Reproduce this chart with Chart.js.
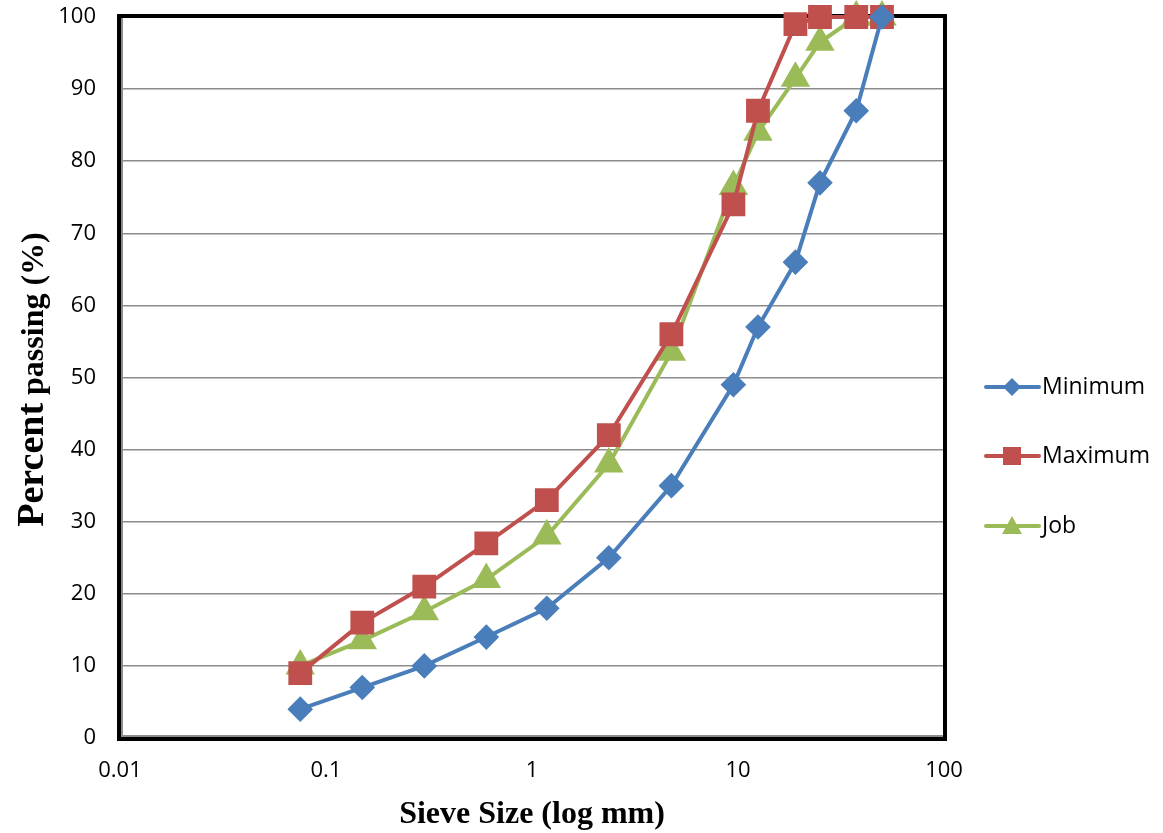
<!DOCTYPE html>
<html lang="en">
<head>
    <meta charset="UTF-8">
    <title>Sieve Gradation Chart</title>
    <script src="https://cdn.jsdelivr.net/npm/chart.js"></script>
    <style>
        html, body { margin: 0; padding: 0; background: #fff; }
        .chart-container { width: 1163px; height: 833px; position: relative; }
    </style>
</head>
<body>
    <div class="chart-container">
        <canvas id="gradChart"></canvas>
    </div>

    <script>
        // Sieve sizes (mm) and percent passing
        const sieveSizes = [0.075, 0.15, 0.3, 0.6, 1.18, 2.36, 4.75, 9.5, 12.5, 19, 25, 37.5, 50];
        const minimum = [4, 7, 10, 14, 18, 25, 35, 49, 57, 66, 77, 87, 100];
        const maximum = [9, 16, 21, 27, 33, 42, 56, 74, 87, 99, 100, 100, 100];
        const job = [10, 13.5, 17.5, 22, 28, 38, 53.5, 76.5, 84, 91.5, 96.5, 100, 100];
        const xTicks = [0.01, 0.1, 1, 10, 100];
        const xTickLabels = ['0.01', '0.1', '1', '10', '100'];

        const toPoints = arr => arr.map((v, i) => ({ x: sieveSizes[i], y: v }));
        const tickFont = { family: 'Open Sans', size: 22 };

        // Frame around plot area: black box with grey axis lines inside
        const framePlugin = {
            id: 'frame',
            beforeDatasetsDraw(chart) {
                const { ctx, chartArea: a } = chart;
                ctx.save();
                ctx.strokeStyle = '#000';
                ctx.lineWidth = 4;
                ctx.strokeRect(a.left - 1, a.top - 1, a.right - a.left + 2, a.bottom - a.top + 2);
                ctx.strokeStyle = '#8c8c8c';
                ctx.lineWidth = 2;
                ctx.beginPath();
                ctx.moveTo(a.left + 2, a.top + 1);
                ctx.lineTo(a.left + 2, a.bottom - 2);
                ctx.lineTo(a.right - 1, a.bottom - 2);
                ctx.stroke();
                ctx.restore();
            }
        };

        // Axis titles and legend drawn by hand
        const labelPlugin = {
            id: 'labels',
            afterDraw(chart) {
                const { ctx, chartArea: a } = chart;
                ctx.save();
                ctx.fillStyle = '#000';
                // x title
                ctx.font = 'bold 32px "Liberation Serif"';
                ctx.textAlign = 'center';
                ctx.textBaseline = 'middle';
                ctx.fillText('Sieve Size (log mm)', (a.left + a.right) / 2, 815);
                // y title, mixed sizes
                ctx.translate(30, (a.top + a.bottom) / 2 + 2);
                ctx.rotate(-Math.PI / 2);
                const p1 = 'Percent', p2 = ' passing (%)';
                ctx.font = 'bold 38px "Liberation Serif"';
                const w1 = ctx.measureText(p1).width;
                ctx.font = 'bold 32px "Liberation Serif"';
                const w2 = ctx.measureText(p2).width;
                let x0 = -(w1 + w2) / 2;
                ctx.textAlign = 'left';
                ctx.textBaseline = 'alphabetic';
                ctx.font = 'bold 38px "Liberation Serif"';
                ctx.fillText(p1, x0, 13);
                ctx.font = 'bold 32px "Liberation Serif"';
                ctx.fillText(p2, x0 + w1, 13);
                ctx.restore();

                // legend
                ctx.save();
                const items = chart.data.datasets;
                const ys = [387, 456, 526];
                items.forEach((ds, i) => {
                    const y = ys[i];
                    ctx.strokeStyle = ds.borderColor;
                    ctx.lineWidth = 4;
                    ctx.lineCap = 'round';
                    ctx.beginPath();
                    ctx.moveTo(986, y);
                    ctx.lineTo(1039, y);
                    ctx.stroke();
                    ctx.fillStyle = ds.pointBackgroundColor;
                    const cx = 1012;
                    ctx.beginPath();
                    if (ds.pointStyle === 'rectRot') {
                        ctx.moveTo(cx, y - 9); ctx.lineTo(cx + 9, y); ctx.lineTo(cx, y + 9); ctx.lineTo(cx - 9, y);
                    } else if (ds.pointStyle === 'rect') {
                        ctx.rect(cx - 9, y - 9, 18, 18);
                    } else {
                        ctx.moveTo(cx, y - 10); ctx.lineTo(cx + 10, y + 8); ctx.lineTo(cx - 10, y + 8);
                    }
                    ctx.closePath();
                    ctx.fill();
                    ctx.fillStyle = '#000';
                    ctx.font = '23px "Open Sans"';
                    ctx.textAlign = 'left';
                    ctx.textBaseline = 'middle';
                    ctx.fillText(ds.label, 1042, y);
                });
                ctx.restore();
            }
        };

        const ctx = document.getElementById('gradChart').getContext('2d');
        new Chart(ctx, {
            type: 'line',
            data: {
                datasets: [{
                    label: 'Minimum',
                    data: toPoints(minimum),
                    borderColor: '#4A7EBB',
                    backgroundColor: '#4A7EBB',
                    pointBackgroundColor: '#4A7EBB',
                    pointBorderColor: '#4A7EBB',
                    pointStyle: 'rectRot',
                    pointRadius: 10,
                    borderWidth: 4
                }, {
                    label: 'Maximum',
                    data: toPoints(maximum),
                    borderColor: '#C0504D',
                    backgroundColor: '#C0504D',
                    pointBackgroundColor: '#C0504D',
                    pointBorderColor: '#C0504D',
                    pointStyle: 'rect',
                    pointRadius: 14,
                    borderWidth: 4
                }, {
                    label: 'Job',
                    data: toPoints(job),
                    borderColor: '#9BBB59',
                    backgroundColor: '#9BBB59',
                    pointBackgroundColor: '#9BBB59',
                    pointBorderColor: '#9BBB59',
                    pointStyle: 'triangle',
                    pointRadius: 13,
                    borderWidth: 4
                }]
            },
            options: {
                responsive: true,
                maintainAspectRatio: false,
                animation: false,
                clip: false,
                layout: { autoPadding: false, padding: { top: 17, right: 219, left: 0, bottom: 0 } },
                elements: { line: { tension: 0 } },
                plugins: {
                    legend: { display: false },
                    tooltip: { enabled: false }
                },
                scales: {
                    x: {
                        type: 'logarithmic',
                        min: 0.01,
                        max: 100,
                        afterBuildTicks: s => { s.ticks = xTicks.map(v => ({ value: v })); },
                        afterFit: s => { s.height = 95; s.paddingLeft = 0; s.paddingRight = 0; },
                        grid: { display: false, drawTicks: false },
                        border: { display: false },
                        ticks: {
                            color: '#000',
                            font: tickFont,
                            padding: 20,
                            maxRotation: 0,
                            autoSkip: false,
                            callback: (v) => {
                                const i = xTicks.indexOf(v);
                                return i >= 0 ? xTickLabels[i] : '';
                            }
                        }
                    },
                    y: {
                        min: 0,
                        max: 100,
                        afterFit: s => { s.width = 120; s.paddingTop = 0; s.paddingBottom = 0; },
                        grid: { color: '#8c8c8c', lineWidth: 1.5, drawTicks: false },
                        border: { display: false },
                        ticks: {
                            stepSize: 10,
                            color: '#000',
                            font: tickFont,
                            padding: 24
                        }
                    }
                }
            },
            plugins: [framePlugin, labelPlugin]
        });
    </script>
</body>
</html>
